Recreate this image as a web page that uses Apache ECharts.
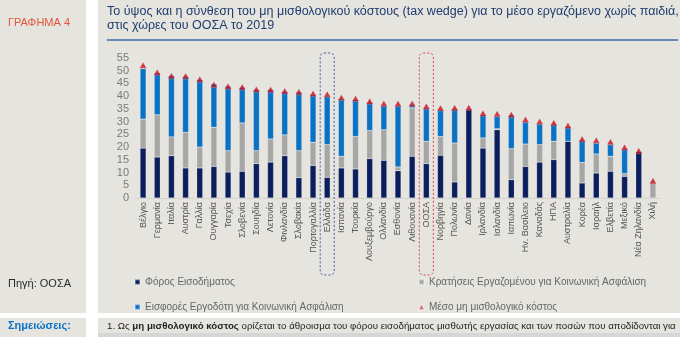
<!DOCTYPE html>
<html><head><meta charset="utf-8">
<script src="https://cdn.jsdelivr.net/npm/echarts@6/dist/echarts.min.js"></script>
<style>html,body{margin:0;padding:0;background:#fff;}#c{width:680px;height:337px;}</style>
</head><body><div id="c"></div>
<script>
const countries = ['Βέλγιο','Γερμανία','Ιταλία','Αυστρία','Γαλλία','Ουγγαρία','Τσεχία','Σλοβενία','Σουηδία','Λετονία','Φινλανδία','Σλοβακία','Πορτογαλλία','Ελλάδα','Ισπανία','Τουρκία','Λουξεμβούργο','Ολλανδία','Εσθονία','Λιθουανία','ΟΟΣΑ','Νορβηγία','Πολωνία','Δανία','Ιρλανδία','Ισλανδία','Ιαπωνία','Ην. Βασίλειο','Καναδάς','ΗΠΑ','Αυστραλία','Κορέα','Ισραήλ','Ελβετία','Μεξικό','Νέα Ζηλανδία','Χιλή'];
const incomeTax   = [19.6,16.1,16.6,11.8,11.8,12.4,10.2,10.5,13.5,14.1,16.6,8.0,12.8,8.1,11.8,11.4,15.5,14.8,10.7,16.4,13.5,16.8,6.3,35.0,19.6,26.8,7.2,12.4,14.1,15.1,22.3,5.9,9.8,10.5,8.5,18.3,0];
const employeeSSC = [11.4,16.6,7.4,14.0,8.2,15.4,8.4,19.0,5.1,9.1,8.2,10.6,9.1,12.9,4.6,12.8,11.0,12.0,1.5,19.0,8.8,7.4,15.3,0,4.0,0.4,12.2,8.8,6.9,7.2,0,8.1,7.5,5.9,1.1,0,6.3];
const employerSSC = [19.8,16.4,24.1,22.0,26.5,17.0,25.3,14.0,24.0,19.4,17.1,23.0,18.7,18.9,22.5,14.4,11.1,9.5,24.1,1.3,13.1,10.5,13.4,0,9.1,4.9,13.1,8.7,8.1,6.7,5.6,8.7,4.3,4.6,9.7,0,0];
const totalWedge  = [52.2,49.4,48.0,47.9,46.7,44.6,43.9,43.6,42.7,42.6,42.0,41.7,41.1,40.8,39.5,39.1,38.0,37.1,37.1,37.1,36.0,35.4,35.5,35.6,33.3,33.1,32.8,30.8,30.1,29.6,28.5,23.2,22.7,22.1,19.9,18.6,6.8];
const seriesNames = ['Φόρος Εισοδήματος','Κρατήσεις Εργαζομένου για Κοινωνική Ασφάλιση','Εισφορές Εργοδότη για Κοινωνική Ασφάλιση','Μέσο μη μισθολογικό κόστος'];
const yMin = 0, yMax = 55, yStep = 5;

const chart = echarts.init(document.getElementById('c'), null, {renderer:'canvas'});
const FONT = '"Liberation Sans", Arial, sans-serif';
const BG = '#e5e4df';
const barBase = {type:'bar', stack:'tw', barWidth:6, itemStyle:{borderColor:'rgba(255,255,255,0.35)', borderWidth:0.5}};

chart.setOption({
  backgroundColor:'#ffffff',
  animation:false,
  textStyle:{fontFamily:FONT},
  title:{
    text:'Το ύψος και η σύνθεση του μη μισθολογικού κόστους (tax wedge) για το μέσο εργαζόμενο χωρίς παιδιά,\nστις χώρες του ΟΟΣΑ το 2019',
    left:107, top:5, padding:0,
    textStyle:{fontFamily:FONT, fontSize:12.5, fontWeight:'normal', color:'#1f3c6e', lineHeight:14}
  },
  grid:{left:136, right:20, top:58, bottom:139, containLabel:false},
  xAxis:{
    type:'category', data:countries,
    axisLine:{show:true, lineStyle:{color:'#d4d3ce', width:1}},
    axisTick:{show:false},
    axisLabel:{rotate:90, interval:0, fontSize:9, color:'#555', margin:4, fontFamily:FONT}
  },
  yAxis:{
    type:'value', min:yMin, max:yMax, interval:yStep,
    splitLine:{show:false}, axisLine:{show:false}, axisTick:{show:false},
    axisLabel:{fontSize:11, color:'#7a7a7a', margin:7, fontFamily:FONT}
  },
  legend:[
    {data:[seriesNames[0], seriesNames[2]], orient:'vertical', left:129, top:272, itemWidth:5, itemHeight:5, itemGap:15, icon:'rect',
     textStyle:{fontSize:10, color:'#666', fontFamily:FONT}},
    {data:[seriesNames[1], {name:seriesNames[3], icon:'triangle'}], orient:'vertical', left:413, top:272, itemWidth:5, itemHeight:5, itemGap:15, icon:'rect',
     textStyle:{fontSize:10, color:'#666', fontFamily:FONT}}
  ],
  series:[
    Object.assign({}, barBase, {name:seriesNames[0], data:incomeTax, itemStyle:Object.assign({}, barBase.itemStyle, {color:'#0b1f5e'})}),
    Object.assign({}, barBase, {name:seriesNames[1], data:employeeSSC, itemStyle:Object.assign({}, barBase.itemStyle, {color:'#a6a6a6'})}),
    Object.assign({}, barBase, {name:seriesNames[2], data:employerSSC, itemStyle:Object.assign({}, barBase.itemStyle, {color:'#0a72c4'})}),
    {name:seriesNames[3], type:'scatter', data:totalWedge, symbol:'triangle', symbolSize:[7,6], z:5,
     itemStyle:{color:'#c8101e', borderColor:'rgba(255,255,255,0.5)', borderWidth:0.5}}
  ],
  graphic:[
    {type:'rect', z:-100, silent:true, shape:{x:0,y:0,width:86,height:313}, style:{fill:BG}},
    {type:'rect', z:-100, silent:true, shape:{x:98,y:0,width:582,height:313}, style:{fill:BG}},
    {type:'rect', z:-100, silent:true, shape:{x:0,y:318,width:86,height:19}, style:{fill:BG}},
    {type:'rect', z:-100, silent:true, shape:{x:98,y:318,width:582,height:15}, style:{fill:BG}},
    {type:'rect', z:-100, silent:true, shape:{x:98,y:333,width:582,height:4}, style:{fill:'#d6d6d6'}},
    {type:'line', z:-50, silent:true, shape:{x1:107,y1:40,x2:678,y2:40}, style:{stroke:'#6a88b5', lineWidth:2}},
    {type:'text', silent:true, left:8, top:17, style:{text:'ΓΡΑΦΗΜΑ 4', fill:'#e4553b', font:'11px '+FONT}},
    {type:'text', silent:true, left:8, top:278, style:{text:'Πηγή: ΟΟΣΑ', fill:'#2a2a2a', font:'11px '+FONT}},
    {type:'text', silent:true, left:8, top:320, style:{text:'Σημειώσεις:', fill:'#0a72c4', font:'bold 11px '+FONT}},
    {type:'text', silent:true, left:107, top:321, style:{
      text:'{n|1. Ως }{b|μη μισθολογικό κόστος}{n| ορίζεται το άθροισμα του φόρου εισοδήματος μισθωτής εργασίας και των ποσών που αποδίδονται για}',
      rich:{n:{fontSize:9.7, fontFamily:FONT, fill:'#222', color:'#222'}, b:{fontSize:9.7, fontFamily:FONT, fontWeight:'bold', fill:'#222', color:'#222'}}
    }}
  ]
});

function box(id, idx, color){
  const cx = chart.convertToPixel({xAxisIndex:0}, idx);
  return {type:'rect', id:id, silent:true, z:1, shape:{x:cx-7, y:53, width:14, height:222, r:4},
    style:{fill:'none', stroke:color, lineWidth:1, lineDash:[2,2]}};
}
chart.setOption({graphic:[box('grBox', countries.indexOf('Ελλάδα'), '#3f5c9c'), box('oecdBox', countries.indexOf('ΟΟΣΑ'), '#d9474a')]});
</script></body></html>
